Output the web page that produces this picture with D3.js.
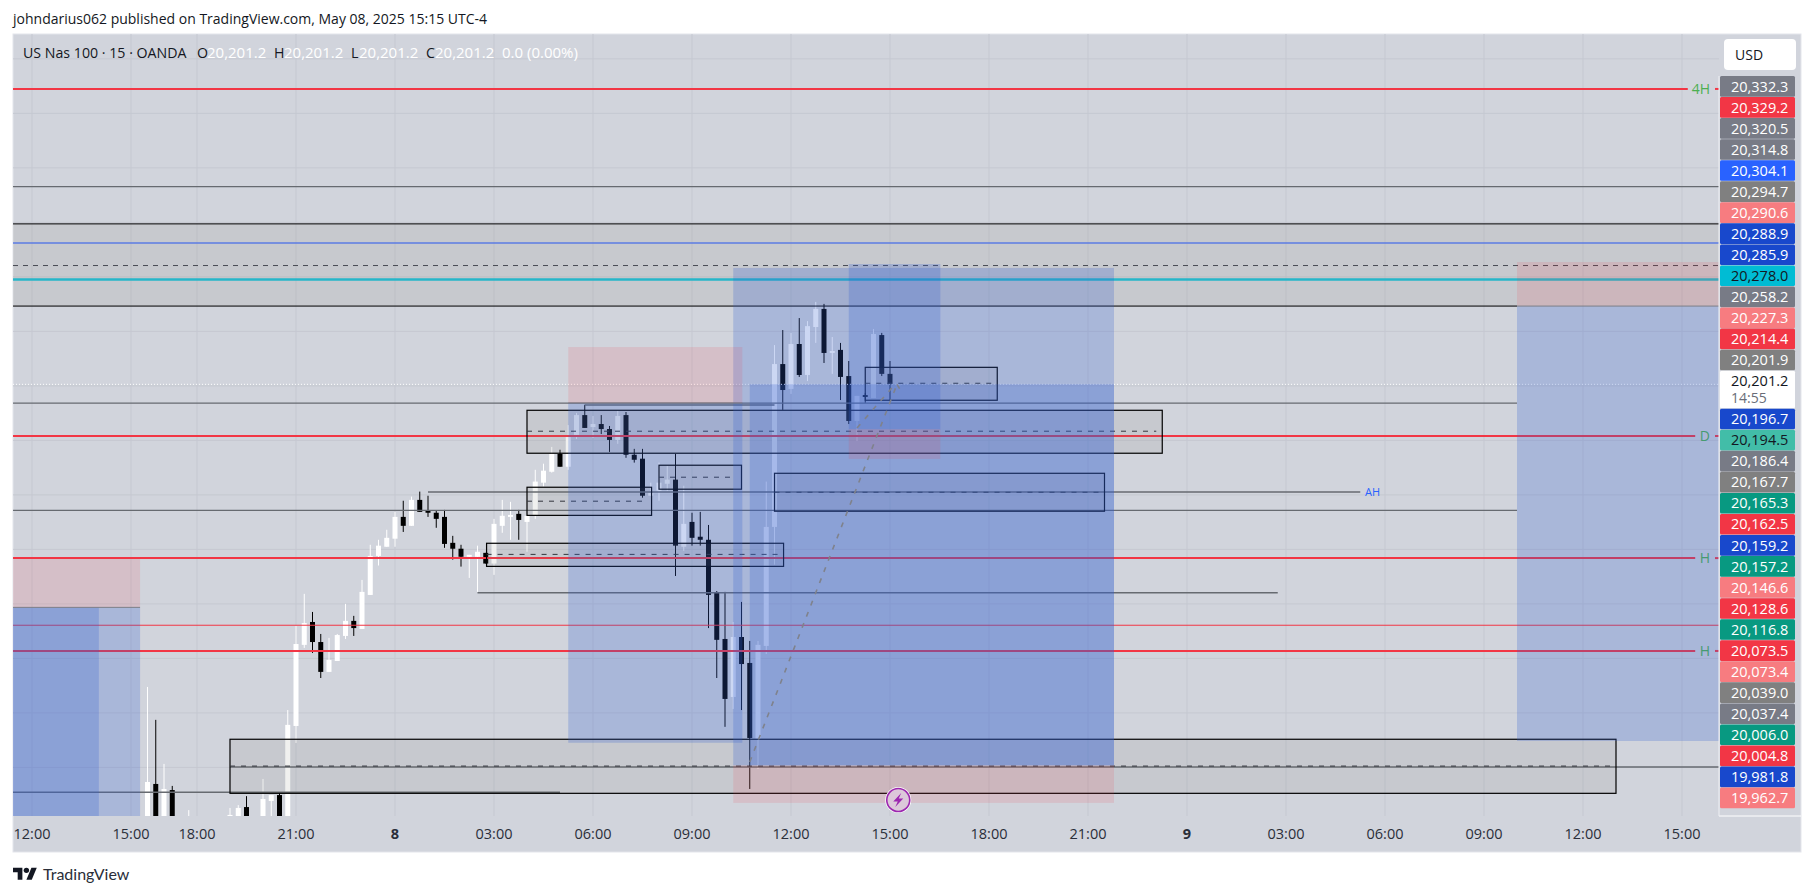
<!DOCTYPE html>
<html>
<head>
<meta charset="utf-8">
<script src="https://cdn.jsdelivr.net/npm/d3@7"></script>
<style>
  body { margin: 0; background: #fff; }
  text { font-family: "Open Sans", sans-serif; }
</style>
</head>
<body>
<svg id="chart" width="1814" height="896"></svg>
<script>
// bar, open, high, low, close (15 min bars, bar 0 = 12:00 on the 7th)
const candles = [
  [14,20000.0,20062.4,19996.0,20018.8],[15,20017.9,20047.3,19995.0,19998.0],[16,19999.0,20027.1,19996.0,20015.6],
  [17,20015.1,20017.0,19995.0,19999.0],[19,19999.0,20005.9,19996.0,20001.0],[24,20000.0,20006.9,19997.0,20003.7],
  [25,20003.2,20008.2,20001.0,20006.9],[26,20007.3,20012.3,19998.0,20000.0],[28,20000.0,20020.2,19997.0,20011.0],
  [29,20010.1,20012.8,19998.0,20012.8],[30,20012.8,20014.2,19997.0,20000.0],[31,20000.0,20051.8,19997.0,20045.0],
  [32,20044.5,20090.4,20036.7,20082.1],[33,20081.7,20105.1,20080.3,20091.7],[34,20092.2,20096.8,20078.0,20083.0],
  [35,20083.0,20086.7,20066.5,20069.3],[36,20069.3,20084.9,20069.3,20074.8],[37,20074.3,20086.7,20074.3,20086.2],
  [38,20085.8,20100.5,20084.4,20092.7],[39,20092.7,20095.0,20085.8,20089.4],[40,20089.0,20111.5,20089.0,20106.0],
  [41,20104.6,20127.6,20104.6,20122.5],[42,20122.5,20129.9,20118.1,20127.2],[43,20126.7,20134.5,20126.7,20130.8],
  [44,20130.4,20142.7,20126.7,20140.4],[45,20140.4,20147.8,20133.5,20136.3],[46,20136.3,20149.7,20136.3,20148.2],
  [47,20148.2,20152.0,20142.7,20142.7],[48,20143.2,20150.1,20140.4,20142.3],[49,20142.3,20143.2,20135.4,20139.5],
  [50,20140.4,20143.6,20126.2,20128.0],[51,20128.5,20131.7,20120.8,20125.8],[52,20125.8,20127.6,20117.6,20122.1],
  [53,20122.1,20123.0,20112.4,20123.0],[54,20122.1,20127.2,20106.0,20124.4],[55,20123.9,20123.9,20119.0,20119.0],
  [56,20119.0,20139.5,20113.8,20137.2],[57,20136.3,20148.2,20133.1,20140.9],[58,20140.4,20147.3,20129.9,20141.3],
  [59,20141.8,20143.6,20129.9,20139.0],[60,20138.1,20140.9,20124.4,20140.9],[61,20140.9,20162.0,20139.5,20156.6],
  [62,20156.1,20164.8,20154.3,20161.6],[63,20161.1,20172.5,20160.7,20169.3],[64,20169.3,20171.2,20163.4,20163.4],
  [65,20163.4,20182.5,20162.0,20177.0],[66,20178.0,20188.1,20176.1,20187.1],[67,20187.1,20191.8,20181.2,20181.2],
  [68,20181.6,20186.7,20176.6,20183.0],[69,20183.0,20187.1,20178.4,20180.7],[70,20180.7,20182.1,20170.2,20175.7],
  [71,20175.7,20189.0,20173.9,20186.7],[72,20187.1,20188.5,20167.5,20168.9],[73,20168.9,20171.6,20165.3,20166.6],
  [74,20167.1,20171.6,20149.2,20150.1],[75,20150.1,20156.1,20150.1,20151.5],[76,20152.4,20165.3,20147.8,20156.1],
  [77,20155.6,20163.9,20152.4,20157.5],[78,20157.5,20169.3,20113.3,20127.2],[79,20126.7,20154.7,20124.8,20137.2],
  [80,20138.1,20142.3,20127.2,20130.8],[81,20131.3,20142.7,20127.2,20129.9],[82,20129.9,20136.7,20089.4,20104.6],
  [83,20105.5,20106.4,20066.5,20084.0],[84,20084.4,20106.0,20044.1,20056.9],[85,20057.8,20092.2,20052.3,20085.3],
  [86,20085.3,20101.4,20051.8,20072.9],[87,20073.4,20083.5,20015.6,20039.0],[88,20038.6,20083.5,20024.8,20081.7],
  [89,20081.2,20156.6,20077.5,20135.8],[90,20135.8,20219.2,20118.5,20210.5],[91,20210.5,20226.1,20189.5,20198.6],
  [92,20199.1,20224.8,20196.8,20219.7],[93,20219.7,20231.6,20204.6,20205.5],[94,20205.5,20230.2,20202.7,20227.9],
  [95,20227.5,20239.0,20220.2,20235.8],[96,20235.8,20238.1,20211.0,20215.6],[97,20215.6,20222.9,20206.0,20216.5],
  [98,20217.0,20220.2,20194.0,20204.6],[99,20205.0,20211.9,20183.0,20184.4],[100,20184.4,20195.9,20175.2,20195.9],
  [101,20196.3,20197.2,20192.7,20195.4],[102,20194.9,20226.6,20194.9,20224.3],[103,20223.8,20224.8,20205.0,20206.0],
  [104,20206.0,20211.9,20194.0,20201.3],[105,20201.2,20201.2,20201.2,20201.2]
];

// time axis, tick bar and label
const timeBars = [0,12,20,32,44,56,68,80,92,104,116,128,140,152,164,176,188,200];
const timeLabels = ["12:00","15:00","18:00","21:00","8","03:00","06:00","09:00","12:00","15:00","18:00","21:00","9","03:00","06:00","09:00","12:00","15:00"];
const gridPrices = [20350.5,20325.5,20300.5,20275.5,20250.5,20225.5,20200.5,20175.5,20150.5,20125.5,20100.5,20075.5,20050.5,20025.5];

// price axis badges top to bottom
const badgeValues = ["20,332.3","20,329.2","20,320.5","20,314.8","20,304.1","20,294.7","20,290.6","20,288.9","20,285.9","20,278.0","20,258.2","20,227.3","20,214.4","20,201.9","20,201.2","20,196.7","20,194.5","20,186.4","20,167.7","20,165.3","20,162.5","20,159.2","20,157.2","20,146.6","20,128.6","20,116.8","20,073.5","20,073.4","20,039.0","20,037.4","20,006.0","20,004.8","19,981.8","19,962.7"];
const badgeKinds = ["slate","red","slate","slate","blue","grey","pink","navy","navy","teal","slate","pink","red","grey","last","navy","mint","slate","grey","green","red","navy","green","pink","red","green","red","pink","grey","slate","green","red","navy","pink"];
const badgeColors = { slate:"#787b86", red:"#f23645", blue:"#2962ff", grey:"#808080", pink:"#f77c80", navy:"#1848cc", teal:"#00bcd4", last:"#ffffff", mint:"#42bda8", green:"#089981" };

// horizontal levels: price, from bar, to bar
const redLevels = [[20336.7,-2.3,200.7],[20177.5,-2.3,201.6],[20121.5,-2.3,201.6],[20078.9,-2.3,201.6]];
const levelTags = ["4H","D","H","H"];
const gapEnd = 204.5;
const thinRed = [[20090.7,-2.3,204.5]];
const greyLevels = [[20291.9,-2.3,204.5],[20192.6,-2.3,180],[20143.4,-2.3,180],[20151.8,48,161],[20105.6,54,151],[20025.7,24,204.5],[20014.1,-2.3,64],[20191.7,67,90]];
const blackLevels = [[20274.8,-2.3,204.5],[20237.1,-2.3,180]];

// sr boxes: from bar, to bar, top, bottom, middle
const boxes = [
  [60,137,20189.3,20169.6,20179.7],[60,75.1,20154.0,20141.1,20147.6],[55.1,91.1,20128.3,20117.7,20123.2],
  [76,86,20164.1,20153.1,20158.6],[90,130,20160.4,20143.0,20151.7],[101,117,20209.0,20193.9,20201.7],[24,192,20038.4,20013.6,20026.1]
];

// position tool zones: from bar, to bar, top, bottom
const blueZones = [
  [-2.3,13.1,20098.9,20000],[-2.3,8.1,20098.9,20000],[65,86.1,20192.6,20036.8],[85,131.15,20254.6,20026.4],
  [87,131.15,20201.2,20026.4],[99,110.1,20256.4,20180.6],[180,204.5,20237.1,20037.6]
];
const redZones = [
  [-2.3,13.1,20121.5,20098.9],[65,86.1,20218.3,20192.6],[85,131.15,20026.4,20009.2],[99,110.1,20180.6,20167.0],[180,204.5,20257.3,20237.1]
];

// dashed trend lines: bar, price, bar, price
const trendLines = [[87,20028,104.85,20201.2],[100,20181.2,104.6,20201.2],[104.85,20201.2,105.4,20197.7]];

const plotLeft = 13, plotRight = 1719, plotTop = 34, plotBottom = 816;

const x = d3.scaleLinear().domain([0, 200]).range([32, 1682]);
const y = d3.scaleLinear().domain([20361.9, 20003.2]).range([plotTop, plotBottom]);

const svg = d3.select("#chart");

// panel
svg.append("rect").attr("x", plotLeft).attr("y", plotTop).attr("width", 1801 - plotLeft).attr("height", 852 - plotTop)
  .attr("fill", "#d1d4dc").attr("stroke", "#e3e5eb");

svg.append("clipPath").attr("id", "plot").append("rect")
  .attr("x", plotLeft).attr("y", plotTop).attr("width", plotRight - plotLeft).attr("height", plotBottom - plotTop);

const plot = svg.append("g").attr("clip-path", "url(#plot)");

// grid
plot.append("g").selectAll("line").data(timeBars).enter().append("line")
  .attr("x1", d => x(d)).attr("x2", d => x(d)).attr("y1", plotTop).attr("y2", plotBottom)
  .attr("stroke", "#c5c8d1");
plot.append("g").selectAll("line").data(gridPrices).enter().append("line")
  .attr("x1", plotLeft).attr("x2", plotRight).attr("y1", d => y(d)).attr("y2", d => y(d))
  .attr("stroke", "#c5c8d1");

// grey band behind the candles
plot.append("rect").attr("x", x(-2.3)).attr("width", x(204.5) - x(-2.3))
  .attr("y", y(20274.8)).attr("height", y(20237.1) - y(20274.8))
  .attr("fill", "rgba(120,110,90,.1)");

// candles
const candle = plot.append("g").selectAll("g").data(candles).enter().append("g");
candle.append("line")
  .attr("x1", d => x(d[0])).attr("x2", d => x(d[0]))
  .attr("y1", d => y(d[2])).attr("y2", d => y(d[3]))
  .attr("stroke", d => d[4] >= d[1] ? "#ffffff" : "#000000");
candle.append("rect")
  .attr("x", d => x(d[0]) - 2.5).attr("width", 5)
  .attr("y", d => y(Math.max(d[1], d[4])))
  .attr("height", d => Math.max(1, Math.abs(y(d[1]) - y(d[4]))))
  .attr("fill", d => d[4] >= d[1] ? "#ffffff" : "#000000");

// levels
const drawLevels = (rows, color, width) => {
  plot.append("g").selectAll("line").data(rows).enter().append("line")
    .attr("x1", d => x(d[1])).attr("x2", d => x(d[2]))
    .attr("y1", d => y(d[0])).attr("y2", d => y(d[0]))
    .attr("stroke", color).attr("stroke-width", width);
};
drawLevels(greyLevels, "#666a70", 1.4);
drawLevels(blackLevels, "#000000", 1);
drawLevels(thinRed, "#f23645", 1);
drawLevels([[20266.0,-2.3,204.5]], "#5b7be3", 1.5);
drawLevels([[20249.3,-2.3,204.5]], "#26b6c9", 2.6);
drawLevels(redLevels, "#f23645", 2);
// the short stub right of each level tag
drawLevels(redLevels.map(d => [d[0], 204, gapEnd]), "#f23645", 2);

plot.append("line").attr("x1", plotLeft).attr("x2", plotRight).attr("y1", y(20255.7)).attr("y2", y(20255.7))
  .attr("stroke", "#4a4d55").attr("stroke-dasharray", "5,5");
plot.append("line").attr("x1", plotLeft).attr("x2", plotRight).attr("y1", y(20201.2)).attr("y2", y(20201.2))
  .attr("stroke", "#ffffff").attr("stroke-dasharray", "1,2");

// level tags, the zones tint them
plot.append("g").selectAll("text").data(redLevels).enter().append("text")
  .attr("x", 1710).attr("y", d => y(d[0]) + 5)
  .attr("text-anchor", "end").attr("font-size", 14).attr("fill", "#4caf50")
  .text((d, i) => levelTags[i]);

// boxes
const box = plot.append("g").selectAll("g").data(boxes).enter().append("g");
box.append("rect")
  .attr("x", d => x(d[0])).attr("width", d => x(d[1]) - x(d[0]))
  .attr("y", d => y(d[2])).attr("height", d => y(d[3]) - y(d[2]))
  .attr("fill", "rgba(120,120,110,.11)").attr("stroke", "#000000").attr("stroke-width", 1.2);
box.append("line")
  .attr("x1", d => x(d[0])).attr("x2", d => x(d[1]) - 6)
  .attr("y1", d => y(d[4])).attr("y2", d => y(d[4]))
  .attr("stroke", "#33363d").attr("stroke-dasharray", "5,6");

// zones
plot.append("g").selectAll("rect").data(blueZones).enter().append("rect")
  .attr("x", d => x(d[0])).attr("width", d => x(d[1]) - x(d[0]))
  .attr("y", d => y(d[2])).attr("height", d => y(d[3]) - y(d[2]))
  .attr("fill", "rgba(53,96,208,.25)");
plot.append("g").selectAll("rect").data(redZones).enter().append("rect")
  .attr("x", d => x(d[0])).attr("width", d => x(d[1]) - x(d[0]))
  .attr("y", d => y(d[2])).attr("height", d => y(d[3]) - y(d[2]))
  .attr("fill", "rgba(242,54,69,.13)");
plot.append("g").selectAll("line").data(redZones).enter().append("line")
  .attr("x1", d => x(d[0])).attr("x2", d => x(d[1]))
  .attr("y1", d => y(d[3])).attr("y2", d => y(d[3]))
  .attr("stroke", "#7d7f88").style("display", (d, i) => (i === 2 || i === 3) ? "none" : null);

// trend lines
plot.append("g").selectAll("line").data(trendLines).enter().append("line")
  .attr("x1", d => x(d[0])).attr("y1", d => y(d[1])).attr("x2", d => x(d[2])).attr("y2", d => y(d[3]))
  .attr("stroke", "#7f828c").attr("stroke-width", 1.6).attr("stroke-dasharray", "5,7");

plot.append("text").attr("x", 1365).attr("y", y(20151.8) + 4).attr("font-size", 11)
  .attr("fill", "#2962ff").text("AH");

// lightning marker
const marker = svg.append("g").attr("transform", "translate(" + x(105) + ",800)");
marker.append("circle").attr("r", 13).attr("fill", "#fff");
marker.append("circle").attr("r", 11.5).attr("fill", "#dcc8da").attr("stroke", "#9c27b0").attr("stroke-width", 1.6);
marker.append("path").attr("d", "M3,-7L-5,1.5H-0.5L-3,7L5,-1.5H0.5Z").attr("fill", "#9c27b0");

// time axis
svg.append("g").selectAll("text").data(timeBars).enter().append("text")
  .attr("x", d => x(d)).attr("y", 839).attr("text-anchor", "middle")
  .attr("font-size", 14.5).attr("fill", "#2a2e39")
  .attr("font-weight", (d, i) => (timeLabels[i] === "8" || timeLabels[i] === "9") ? 700 : 400)
  .text((d, i) => timeLabels[i]);

// price badges
let badgeTop = 76;
const axis = svg.append("g");
badgeValues.forEach((value, i) => {
  const kind = badgeKinds[i];
  const isLast = kind === "last";
  const h = isLast ? 38 : 21.05;
  axis.append("rect").attr("x", 1720).attr("y", badgeTop).attr("width", 75).attr("height", h - 0.4)
    .attr("rx", 1.5).attr("fill", badgeColors[kind]);
  axis.append("text").attr("x", 1731).attr("y", badgeTop + 15.5).attr("font-size", 14.5)
    .attr("fill", (isLast || kind === "teal" || kind === "mint") ? "#131722" : "#ffffff").text(value);
  if (isLast) {
    axis.append("text").attr("x", 1731).attr("y", badgeTop + 32).attr("font-size", 14)
      .attr("fill", "#6a6d78").text("14:55");
  }
  badgeTop += h;
});
svg.append("line").attr("x1", plotRight).attr("x2", 1801).attr("y1", plotBottom).attr("y2", plotBottom).attr("stroke", "#fff");
svg.append("line").attr("x1", plotRight).attr("x2", plotRight).attr("y1", 76).attr("y2", plotBottom).attr("stroke", "#eef0f4");

// currency button
svg.append("rect").attr("x", 1724).attr("y", 39).attr("width", 72).attr("height", 31).attr("rx", 4).attr("fill", "#fff");
svg.append("text").attr("x", 1735).attr("y", 60).attr("font-size", 14).attr("fill", "#131722").text("USD");

// header and legend
svg.append("text").attr("x", 13).attr("y", 24).attr("font-size", 14).attr("fill", "#131722")
  .text("johndarius062 published on TradingView.com, May 08, 2025 15:15 UTC-4");

const legend = svg.append("g").attr("font-size", 14.2);
legend.append("text").attr("x", 23).attr("y", 58).attr("fill", "#131722").text("US Nas 100 · 15 · OANDA");
[["O",197,207],["H",274,284],["L",351,359],["C",426,435]].forEach(d => {
  legend.append("text").attr("x", d[1]).attr("y", 58).attr("fill", "#131722").text(d[0]);
  legend.append("text").attr("x", d[2]).attr("y", 58).attr("fill", "#ffffff").attr("font-size", 15).text("20,201.2");
});
legend.append("text").attr("x", 502).attr("y", 58).attr("fill", "#ffffff").attr("font-size", 15).text("0.0 (0.00%)");

// logo
const logo = svg.append("g").attr("transform", "translate(13,865) scale(0.67)");
logo.append("path").attr("d", "M14 22H7V11H0V4h14v18zM28 22h-8l7.5-18h8L28 22z").attr("fill", "#131722");
logo.append("circle").attr("cx", 20).attr("cy", 8).attr("r", 4).attr("fill", "#131722");
svg.append("text").attr("x", 43).attr("y", 880).attr("font-size", 16).attr("fill", "#2a2e39").style("font-family", "Lato").text("TradingView");
</script>
</body>
</html>
